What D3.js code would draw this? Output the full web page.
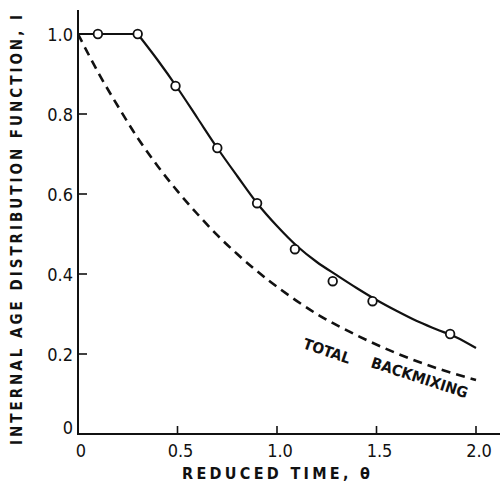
<!DOCTYPE html>
<html>
<head>
<meta charset="utf-8">
<script src="https://cdn.jsdelivr.net/npm/d3@7"></script>
<style>
  body { margin: 0; background: #fff; }
  svg { display: block; }
  .tick-label { font-family: "Liberation Sans Narrow", "DejaVu Sans Condensed", sans-serif; font-size: 18px; fill: #111; }
  .title { font-family: "DejaVu Sans Condensed", sans-serif; font-weight: bold; fill: #111; }
</style>
</head>
<body>
<div id="wrapper"></div>
<script>
// data
const pointTheta = [0.1, 0.3, 0.49, 0.7, 0.9, 1.09, 1.28, 1.48, 1.87];
const pointI = [1.0, 1.0, 0.87, 0.715, 0.577, 0.462, 0.382, 0.332, 0.25];

// solid curve: plateau then decay
const plateauTheta = [0, 0.3];
const plateauI = [1.0, 1.0];
const decayTheta = [0.3, 0.4, 0.5, 0.6, 0.7, 0.8, 0.9, 1.0, 1.1, 1.2, 1.3, 1.4, 1.5, 1.6, 1.7, 1.8, 1.9, 2.0];
const decayI = [1.0, 0.935, 0.865, 0.79, 0.715, 0.645, 0.577, 0.52, 0.47, 0.43, 0.397, 0.365, 0.335, 0.308, 0.283, 0.262, 0.242, 0.215];

// dashed curve: total backmixing
const mixTheta = [0, 0.1, 0.2, 0.3, 0.4, 0.5, 0.6, 0.7, 0.8, 0.9, 1.0, 1.2, 1.4, 1.6, 1.8, 2.0];
const mixI = [1.0, 0.905, 0.82, 0.74, 0.67, 0.607, 0.55, 0.497, 0.45, 0.407, 0.368, 0.3, 0.247, 0.202, 0.165, 0.135];

const xTicks = [0, 0.5, 1.0, 1.5, 2.0];
const xTickLabels = ['0', '0.5', '1.0', '1.5', '2.0'];
const yTicks = [0, 0.2, 0.4, 0.6, 0.8, 1.0];
const yTickLabels = ['0', '0.2', '0.4', '0.6', '0.8', '1.0'];

const dimensions = { width: 503, height: 485 };

const svg = d3.select('#wrapper').append('svg')
  .attr('width', dimensions.width)
  .attr('height', dimensions.height);

const xScale = d3.scaleLinear().domain([0, 2]).range([78, 476]);
const yScale = d3.scaleLinear().domain([0, 1]).range([434, 34]);

const zip = (xs, ys) => xs.map((x, i) => [x, ys[i]]);

// axes lines
svg.append('line')
  .attr('x1', xScale(0)).attr('x2', xScale(0))
  .attr('y1', 10).attr('y2', yScale(0) + 1)
  .attr('stroke', '#111').attr('stroke-width', 2);
svg.append('line')
  .attr('x1', xScale(0) - 1).attr('x2', 500)
  .attr('y1', yScale(0)).attr('y2', yScale(0))
  .attr('stroke', '#111').attr('stroke-width', 2);

// y ticks (inside)
svg.selectAll('.ytick').data(yTicks.filter(d => d > 0)).enter().append('line')
  .attr('x1', xScale(0)).attr('x2', xScale(0) + 9)
  .attr('y1', d => yScale(d)).attr('y2', d => yScale(d))
  .attr('stroke', '#111').attr('stroke-width', 1.6);
svg.selectAll('.ylab').data(yTicks).enter().append('text')
  .attr('class', 'tick-label')
  .attr('x', 73)
  .attr('y', (d, i) => yScale(d) + (d === 0 ? 0 : 7))
  .attr('text-anchor', 'end')
  .text((d, i) => yTickLabels[i]);

// x ticks (inside)
svg.selectAll('.xtick').data(xTicks.filter(d => d > 0)).enter().append('line')
  .attr('x1', d => xScale(d)).attr('x2', d => xScale(d))
  .attr('y1', yScale(0)).attr('y2', yScale(0) - 8)
  .attr('stroke', '#111').attr('stroke-width', 1.6);
svg.selectAll('.xlab').data(xTicks).enter().append('text')
  .attr('class', 'tick-label')
  .attr('x', d => xScale(d) + 3)
  .attr('y', 457)
  .attr('text-anchor', 'middle')
  .text((d, i) => xTickLabels[i]);

// curves
const line = d3.line().x(d => xScale(d[0])).y(d => yScale(d[1]));
svg.append('path')
  .attr('d', line.curve(d3.curveCatmullRom)(zip(mixTheta, mixI)))
  .attr('fill', 'none').attr('stroke', '#111')
  .attr('stroke-width', 2.6).attr('stroke-dasharray', '9,6');
svg.append('path')
  .attr('d', line.curve(d3.curveLinear)(zip(plateauTheta, plateauI)))
  .attr('fill', 'none').attr('stroke', '#111').attr('stroke-width', 2.2);
svg.append('path')
  .attr('d', line.curve(d3.curveCatmullRom)(zip(decayTheta, decayI)))
  .attr('fill', 'none').attr('stroke', '#111').attr('stroke-width', 2.2);

// points
svg.selectAll('.pt').data(zip(pointTheta, pointI)).enter().append('circle')
  .attr('cx', d => xScale(d[0])).attr('cy', d => yScale(d[1]))
  .attr('r', 4.3)
  .attr('fill', '#fff').attr('stroke', '#111').attr('stroke-width', 1.8);

// annotation
svg.append('text').attr('class', 'title')
  .attr('transform', 'translate(302,348) rotate(19)')
  .attr('font-size', 15)
  .attr('textLength', 49).attr('lengthAdjust', 'spacingAndGlyphs')
  .text('TOTAL');
svg.append('text').attr('class', 'title')
  .attr('transform', 'translate(370,367) rotate(18)')
  .attr('font-size', 15)
  .attr('textLength', 101).attr('lengthAdjust', 'spacingAndGlyphs')
  .text('BACKMIXING');

// axis titles
svg.append('text').attr('class', 'title')
  .attr('x', 182).attr('y', 479)
  .attr('font-size', 16)
  .attr('textLength', 188).attr('lengthAdjust', 'spacing')
  .text('REDUCED TIME, θ');
svg.append('text').attr('class', 'title')
  .attr('transform', 'translate(22,445) rotate(-90)')
  .attr('font-size', 15)
  .attr('textLength', 430).attr('lengthAdjust', 'spacing')
  .text('INTERNAL AGE DISTRIBUTION FUNCTION, I');
</script>
</body>
</html>
